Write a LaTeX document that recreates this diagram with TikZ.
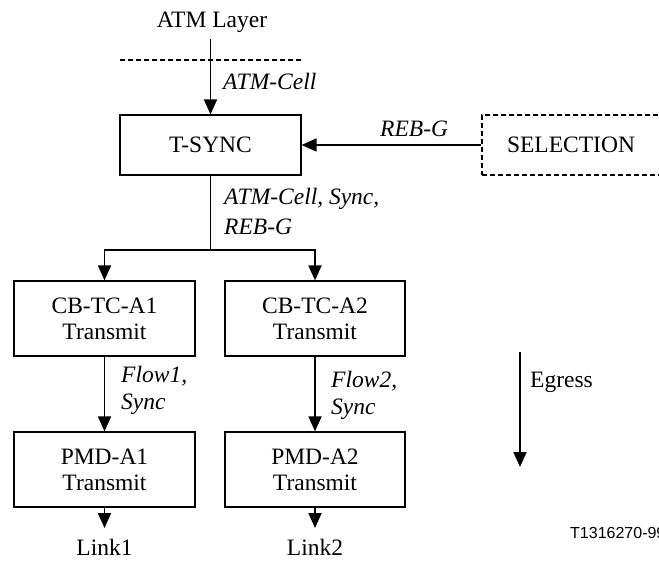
\documentclass[tikz,border=0pt]{standalone}
\usepackage{fontspec}
\setmainfont{Liberation Serif}
\usetikzlibrary{arrows.meta}
\begin{document}
\begin{tikzpicture}[x=1pt,y=-1pt,
  every node/.style={font=\fontsize{23.5}{26}\selectfont, inner sep=0pt},
  blk/.style={draw, line width=1.2pt, minimum width=181pt, minimum height=75pt, align=center},
  lbl/.style={anchor=west, font=\fontsize{23.5}{30}\selectfont\itshape, align=left},
  arr/.style={line width=1.8pt, -{Triangle[width=13pt,length=15pt]}},
  ln/.style={line width=1.8pt}]
\useasboundingbox (0,0) rectangle (659,561);
% top
\node (atm) at (212,22) {ATM Layer};
\coordinate (atmstart) at (210.5,39);
\coordinate (dl) at (120,60);
\coordinate (dr) at (302,60);
\draw[line width=1.2pt, dash pattern=on 5pt off 3pt] (dl) -- (dr);
\node[blk, minimum height=60pt] (tsync) at (210.5,145) {T-SYNC};
\draw[arr] (atmstart) -- (tsync.north);
\node[lbl] (l1) at (223,81) {ATM-Cell};
% selection
\node[blk, dash pattern=on 5pt off 3pt, minimum width=178pt, minimum height=60pt] (sel) at (571,145) {SELECTION};
\draw[arr] (sel.west) -- (tsync.east);
\node[lbl] (l2) at (380,129) {REB-G};
% branch
\node[blk] (cb1) at (104.5,318.5) {CB-TC-A1\\Transmit};
\node[blk, minimum width=180pt] (cb2) at (315,318.5) {CB-TC-A2\\Transmit};
\coordinate (split) at (210.5,250);
\draw[ln] (tsync.south) -- (split);
\draw[arr] (split) -| (cb1.north);
\draw[arr] (split) -| (cb2.north);
\node[lbl] (l3) at (224,211) {ATM-Cell, Sync,\\REB-G};
% PMD
\node[blk] (pmd1) at (104.5,469.5) {PMD-A1\\Transmit};
\node[blk, minimum width=180pt] (pmd2) at (315,469.5) {PMD-A2\\Transmit};
\draw[arr] (cb1.south) -- (pmd1.north);
\draw[arr] (cb2.south) -- (pmd2.north);
\node[lbl, font=\fontsize{23.5}{27}\selectfont\itshape] (l4) at (121,390) {Flow1,\\Sync};
\node[lbl, font=\fontsize{23.5}{27}\selectfont\itshape] (l5) at (331,395) {Flow2,\\Sync};
% links
\node (link1) at (104.5,547) {Link1};
\node (link2) at (315,547) {Link2};
\coordinate (lk1) at (104.5,528);
\coordinate (lk2) at (315,528);
\draw[arr] (pmd1.south) -- (lk1);
\draw[arr] (pmd2.south) -- (lk2);
% egress
\coordinate (eg1) at (520,352);
\coordinate (eg2) at (520,467);
\draw[arr] (eg1) -- (eg2);
\node[anchor=west] (egress) at (530,382) {Egress};
\node[anchor=west, font=\fontsize{16}{18}\selectfont] (fig) at (570,533) {\fontspec{Liberation Sans}T1316270-99};
\end{tikzpicture}
\end{document}
